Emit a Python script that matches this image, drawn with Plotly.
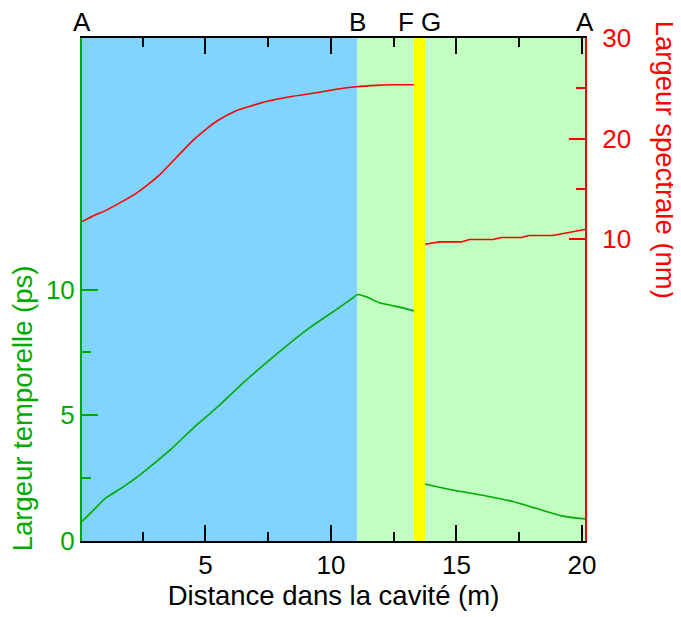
import plotly.graph_objects as go

# ---- data ----
temp1_x = [0.08, 0.51, 1.04, 1.71, 2.44, 3.57, 4.63, 5.16, 5.56, 6.49, 7.82, 9.14, 10.21, 10.8, 11.07, 11.4, 11.93, 12.6, 13.3]
temp1_y = [0.78, 1.2, 1.72, 2.14, 2.67, 3.6, 4.6, 5.05, 5.4, 6.28, 7.42, 8.47, 9.2, 9.62, 9.8, 9.71, 9.47, 9.33, 9.15]
temp2_x = [13.75, 14.85, 16.18, 17.24, 18.17, 19.24, 20.12]
temp2_y = [2.27, 2.03, 1.79, 1.57, 1.3, 0.99, 0.88]

spec1_x = [0.08, 0.58, 0.98, 1.71, 2.24, 2.64, 3.17, 3.83, 4.49, 5.03, 5.49, 6.22, 6.75, 7.15, 7.55, 8.35, 9.41, 10.21, 11.0, 11.8, 12.46, 13.3]
spec1_y = [11.75, 12.39, 12.79, 13.78, 14.55, 15.3, 16.4, 18.1, 19.8, 20.95, 21.8, 22.77, 23.2, 23.5, 23.76, 24.16, 24.56, 24.9, 25.15, 25.29, 25.35, 25.35]
spec2_x = [13.75, 14.32, 15.19, 15.52, 16.45, 16.78, 17.58, 17.9, 18.83, 19.23, 20.12]
spec2_y = [9.5, 9.73, 9.73, 9.97, 9.97, 10.17, 10.17, 10.37, 10.37, 10.57, 10.97]

x_range = [0.08, 20.12]
# background regions: (start, end, colour)
region_edges = [0.08, 11.05, 13.3, 13.75, 20.12]
region_colors = ["#80D4FF", "#C0FFC0", "#FFFF00", "#C0FFC0"]

top_labels = ["A", "B", "F", "G", "A"]
top_label_x = [0.08, 11.05, 13.0, 14.0, 20.12]

x_ticks = [5, 10, 15, 20]
x_minor = [2.5, 7.5, 12.5, 17.5]
yl_ticks = [0, 5, 10]
yl_minor = [2.5, 7.5]
yr_ticks = [10, 20, 30]
yr_minor = [15, 25]

GREEN = "#00AA00"
RED = "#FF0000"
FONT = "Liberation Sans, Arial, sans-serif"
TITLE_SIZE = 27.5

fig = go.Figure()
fig.add_trace(go.Scatter(x=temp1_x, y=temp1_y, mode="lines", line=dict(color=GREEN, width=1.6, shape="spline", smoothing=0.6), yaxis="y", showlegend=False))
fig.add_trace(go.Scatter(x=temp2_x, y=temp2_y, mode="lines", line=dict(color=GREEN, width=1.6, shape="spline", smoothing=0.6), yaxis="y", showlegend=False))
fig.add_trace(go.Scatter(x=spec1_x, y=spec1_y, mode="lines", line=dict(color=RED, width=1.6, shape="spline", smoothing=0.6), yaxis="y2", showlegend=False))
fig.add_trace(go.Scatter(x=spec2_x, y=spec2_y, mode="lines", line=dict(color=RED, width=1.6), yaxis="y2", showlegend=False))

for i, c in enumerate(region_colors):
    fig.add_shape(type="rect", xref="x", yref="paper", x0=region_edges[i], x1=region_edges[i + 1],
                  y0=0, y1=1, fillcolor=c, line=dict(width=0), layer="below")

for lab, xv in zip(top_labels, top_label_x):
    fig.add_annotation(x=xv, y=1.0, xref="x", yref="paper", text=lab, showarrow=False,
                       font=dict(family=FONT, size=26, color="black"), yanchor="bottom", xanchor="center", yshift=-1)

fig.add_annotation(x=-0.119, y=0.264, xref="paper", yref="paper", text="Largeur temporelle (ps)", textangle=-90,
                   showarrow=False, font=dict(family=FONT, size=TITLE_SIZE, color=GREEN), xanchor="center", yanchor="middle")
fig.add_annotation(x=1.16, y=0.757, xref="paper", yref="paper", text="Largeur spectrale (nm)", textangle=90,
                   showarrow=False, font=dict(family=FONT, size=TITLE_SIZE, color=RED), xanchor="center", yanchor="middle")

fig.update_layout(
    width=673, height=609,
    margin=dict(l=74, r=96, t=30, b=76),
    paper_bgcolor="white", plot_bgcolor="white",
    font=dict(family=FONT, size=26, color="black"),
    xaxis=dict(range=x_range, tickmode="array", tickvals=x_ticks, ticks="inside", ticklen=16, tickwidth=2,
               tickcolor="black", showline=True, linecolor="black", linewidth=2, mirror="ticks",
               showgrid=False, zeroline=False, tickfont=dict(size=26, color="black"),
               minor=dict(tickmode="array", tickvals=x_minor, ticks="inside", ticklen=9, tickwidth=2, tickcolor="black", showgrid=False),
               title=dict(text="Distance dans la cavité (m)", font=dict(size=TITLE_SIZE, color="black"), standoff=6)),
    yaxis=dict(range=[0, 20], tickmode="array", tickvals=yl_ticks, ticks="inside", ticklen=16, tickwidth=2,
               tickcolor=GREEN, showline=True, linecolor=GREEN, linewidth=2, showgrid=False, zeroline=False,
               tickfont=dict(size=26, color=GREEN),
               minor=dict(tickmode="array", tickvals=yl_minor, ticks="inside", ticklen=9, tickwidth=2, tickcolor=GREEN, showgrid=False)),
    yaxis2=dict(range=[-20, 30], overlaying="y", side="right", tickmode="array", tickvals=yr_ticks, ticks="inside",
                ticklen=16, tickwidth=2, tickcolor=RED, showline=True, linecolor=RED, linewidth=2, showgrid=False,
                zeroline=False, tickfont=dict(size=26, color=RED), ticklabelstandoff=10,
                minor=dict(tickmode="array", tickvals=yr_minor, ticks="inside", ticklen=9, tickwidth=2, tickcolor=RED, showgrid=False)),
)

fig.write_html("out.html")
